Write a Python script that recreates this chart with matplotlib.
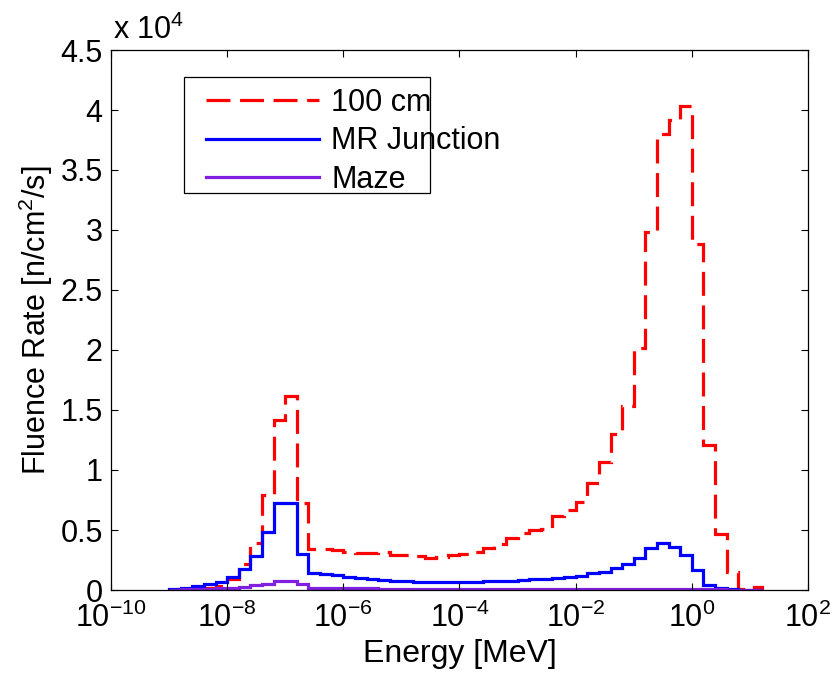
import matplotlib
matplotlib.use('Agg')
import matplotlib.pyplot as plt
import numpy as np

plt.rcParams['font.family'] = ['Liberation Sans', 'DejaVu Sans']
plt.rcParams['mathtext.fontset'] = 'custom'
plt.rcParams['mathtext.rm'] = 'Liberation Sans'
plt.rcParams['mathtext.it'] = 'Liberation Sans:italic'

# energy bins: 0.2 decade wide, 1e-9 MeV .. ~16 MeV
log_edge_start = -9.0
log_edge_step = 0.2
n_bins = 51
edges = 10 ** (log_edge_start + log_edge_step * np.arange(n_bins + 1))

# fluence rate per bin [n/cm^2/s]
red_100cm = [30, 60, 100, 180, 350, 900, 2200, 3950, 7900, 14200, 16200,
             7250, 3390, 3390, 3300, 3190, 3060, 3100, 3140, 2920, 2950, 2800, 2650, 2750, 2950,
             2970, 3190, 3470, 3830, 4300, 4720, 5000, 5060, 6170, 6670, 7300, 8900, 10650, 13000, 15300, 20200,
             29860, 38000, 39200, 40300, 28800, 12100, 4670, 1530, 60, 230]
blue_mr = [120, 200, 330, 480, 650, 1050, 1750, 2850, 4860, 7250, 7250,
           3000, 1390, 1300, 1220, 1110, 1030, 950, 860, 780, 720, 690, 670, 670, 680,
           690, 700, 720, 750, 790, 830, 880, 940, 1010, 1090, 1180, 1380, 1500, 1800, 2150, 2640,
           3470, 3940, 3610, 2920, 1670, 420, 140, 50, 30, 20]
purple_maze = [40, 60, 80, 110, 150, 200, 280, 380, 520, 720, 720,
               480, 150, 140, 140, 135, 130, 130, 125, 125, 120, 120, 120, 115, 115,
               115, 110, 110, 110, 110, 105, 105, 105, 105, 100, 100, 100, 100, 100, 95, 95,
               90, 90, 85, 80, 70, 60, 50, 40, 30, 20]

labels = ['100 cm', 'MR Junction', 'Maze']
yticks = [0, 5000, 10000, 15000, 20000, 25000, 30000, 35000, 40000, 45000]
ytick_labels = ['0', '0.5', '1', '1.5', '2', '2.5', '3', '3.5', '4', '4.5']
xticks = [1e-10, 1e-8, 1e-6, 1e-4, 1e-2, 1e0, 1e2]

fs = 22
W, H = 834, 678
fig = plt.figure(figsize=(W / 100, H / 100), dpi=100)
ax = fig.add_axes([111 / W, 1 - 590 / H, (808 - 111) / W, (590 - 50) / H])

ax.stairs(red_100cm, edges, color=(1, 0, 0), lw=2.3, linestyle=(0, (7.5, 3)), label=labels[0])
ax.stairs(blue_mr, edges, color=(0, 0, 1), lw=2.3, label=labels[1])
ax.stairs(purple_maze, edges, color=(0.5, 0.12, 0.88), lw=2.3, label=labels[2])

ax.set_xscale('log')
ax.set_xlim(1e-10, 1e2)
ax.set_ylim(0, 45000)
ax.set_xticks(xticks)
ax.xaxis.set_minor_locator(matplotlib.ticker.NullLocator())
ax.set_yticks(yticks)
ax.set_yticklabels(ytick_labels)
ax.tick_params(direction='in', length=5, width=0.8, labelsize=fs, top=True, right=True)
ax.tick_params(axis='y', pad=6)
ax.tick_params(axis='x', pad=9)
for s in ax.spines.values():
    s.set_linewidth(0.9)

ax.text(0.003, 1.008, r'x 10$^{4}$', transform=ax.transAxes, fontsize=fs, ha='left', va='bottom')
ax.set_xlabel('Energy [MeV]', fontsize=23, labelpad=4)
ax.set_ylabel('Fluence Rate [n/cm$^2$/s]', fontsize=fs, labelpad=4)

# legend box drawn separately, like the MATLAB one
box = plt.Rectangle((184 / W, 1 - 193 / H), (430 - 184) / W, (193 - 77) / H,
                    transform=fig.transFigure, facecolor='white', edgecolor='black',
                    lw=0.9, zorder=5, clip_on=False)
ax.add_patch(box)
leg = ax.legend(loc='upper left', bbox_to_anchor=(200 / W, 1 - 82 / H), bbox_transform=fig.transFigure,
                fontsize=fs, handlelength=3.7, handletextpad=0.4, labelspacing=0.27,
                borderpad=0.2, borderaxespad=0, frameon=False)
leg.set_zorder(6)

fig.savefig('out.png', dpi=100)
